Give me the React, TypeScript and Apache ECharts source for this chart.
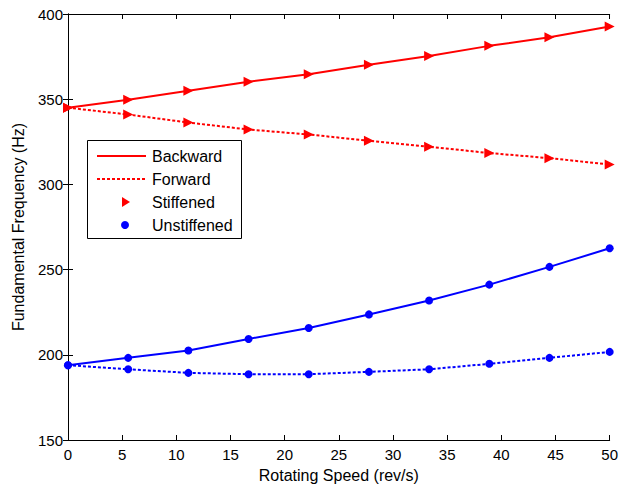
import React, { useEffect, useRef } from "react";
import * as echarts from "echarts";

const speeds = [0, 5.556, 11.111, 16.667, 22.222, 27.778, 33.333, 38.889, 44.444, 50];
const stiffBackward = [345, 349.7, 355, 360.3, 364.6, 370.2, 375.4, 381.3, 386.3, 392.7];
const stiffForward = [345, 341, 336.3, 332.2, 329.3, 325.6, 322.1, 318.4, 315.4, 311.7];
const unstiffBackward = [193.9, 198.2, 202.5, 209.3, 215.7, 223.7, 231.9, 241.2, 251.6, 262.5];
const unstiffForward = [193.9, 191.5, 189.4, 188.6, 188.6, 190.0, 191.5, 194.7, 198.2, 201.7];
const legendLabels = ["Backward", "Forward", "Stiffened", "Unstiffened"];

const FONT = "Liberation Sans, Arial, sans-serif";

export default function App() {
  const ref = useRef<HTMLDivElement>(null);
  useEffect(() => {
    const chart = echarts.init(ref.current!, null, { renderer: "svg" });
    const pair = (ys: number[]) => speeds.map((x, i) => [x, ys[i]]);
    const mk = (name: string, ys: number[], color: string, dotted: boolean, symbol: string) => ({
      name,
      type: "line",
      data: pair(ys),
      symbol,
      symbolSize: symbol === "circle" ? 8 : 10,
      symbolRotate: symbol === "triangle" ? -90 : 0,
      showSymbol: true,
      lineStyle: { color, width: 2, type: dotted ? [3, 2] : "solid" },
      itemStyle: { color },
      z: 3,
    });
    const axisCommon = {
      axisLine: { show: true, lineStyle: { color: "#000", width: 1 } },
      axisTick: { show: true, inside: true, length: 5, lineStyle: { color: "#000" } },
      splitLine: { show: false },
    };
    const lx = 97, tx = 152, ty0 = 156, dy = 23;
    chart.setOption({
      animation: false,
      backgroundColor: "#fff",
      grid: { left: 68, top: 14, right: 8, bottom: 46, containLabel: false },
      xAxis: [
        {
          type: "value", min: 0, max: 50, interval: 5,
          name: "Rotating Speed (rev/s)", nameLocation: "middle", nameGap: 27,
          nameTextStyle: { color: "#000", fontSize: 16, fontFamily: FONT },
          axisLabel: { color: "#000", fontSize: 15, fontFamily: FONT, margin: 7 },
          ...axisCommon,
        },
        {
          type: "value", min: 0, max: 50, interval: 5, position: "top",
          axisLabel: { show: false }, ...axisCommon,
        },
      ],
      yAxis: [
        {
          type: "value", min: 150, max: 400, interval: 50,
          name: "Fundamental Frequency (Hz)", nameLocation: "middle", nameGap: 42,
          nameTextStyle: { color: "#000", fontSize: 16, fontFamily: FONT },
          axisLabel: { color: "#000", fontSize: 15, fontFamily: FONT, margin: 5 },
          ...axisCommon,
        },
        {
          type: "value", min: 150, max: 400, interval: 50, position: "right",
          axisLabel: { show: false }, ...axisCommon,
        },
      ],
      series: [
        mk("Stiffened Backward", stiffBackward, "#ff0000", false, "triangle"),
        mk("Stiffened Forward", stiffForward, "#ff0000", true, "triangle"),
        mk("Unstiffened Backward", unstiffBackward, "#0000ff", false, "circle"),
        mk("Unstiffened Forward", unstiffForward, "#0000ff", true, "circle"),
      ],
      graphic: [
        {
          type: "rect", shape: { x: 87.5, y: 140.5, width: 154, height: 98 },
          style: { fill: "#fff", stroke: "#000", lineWidth: 1 }, z: 10,
        },
        {
          type: "line", shape: { x1: lx, y1: ty0, x2: lx + 49, y2: ty0 },
          style: { stroke: "#ff0000", lineWidth: 2 }, z: 11,
        },
        {
          type: "line", shape: { x1: lx, y1: ty0 + dy, x2: lx + 49, y2: ty0 + dy },
          style: { stroke: "#ff0000", lineWidth: 2, lineDash: [3, 2] }, z: 11,
        },
        {
          type: "polygon",
          shape: { points: [[122, ty0 + 2 * dy - 5], [130, ty0 + 2 * dy], [122, ty0 + 2 * dy + 5]] },
          style: { fill: "#ff0000" }, z: 11,
        },
        {
          type: "circle", shape: { cx: 125, cy: ty0 + 3 * dy, r: 4 },
          style: { fill: "#0000ff" }, z: 11,
        },
        ...legendLabels.map((t, i) => ({
          type: "text", x: tx, y: ty0 + i * dy, z: 11,
          style: { text: t, fill: "#000", font: `16px ${FONT}`, verticalAlign: "middle" },
        })),
      ],
    });
    return () => chart.dispose();
  }, []);
  return (
    <div
      ref={ref}
      style={{ position: "fixed", left: 0, top: 0, width: 621, height: 488 }}
    />
  );
}
